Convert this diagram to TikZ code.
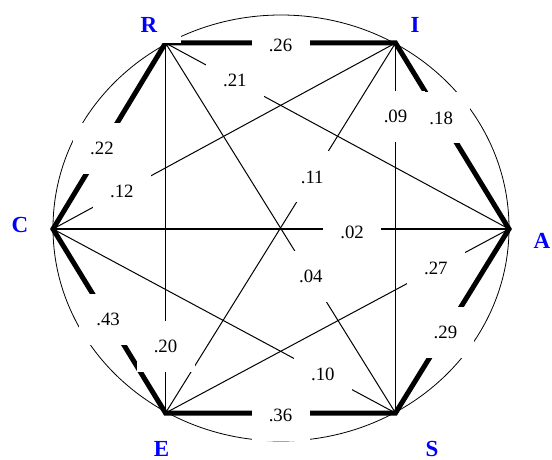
\documentclass[tikz,border=0pt]{standalone}
\usepackage{fontspec}
\setmainfont{Liberation Serif}

\begin{document}
\begin{tikzpicture}[
    x=0.5pt, y=-0.5pt,
    chord/.style={line width=0.5pt},
    ring/.style={line width=2.5pt},
    weight/.style={fill=white, inner sep=0pt, minimum width=29pt, minimum height=25.5pt, font=\fontsize{9.4}{11}\selectfont},
    vname/.style={text=blue, inner sep=0pt, font=\fontsize{11.5}{13}\selectfont\bfseries}
]
    \useasboundingbox (0,0) rectangle (552,460);

    \coordinate (R) at (165.5,43);
    \coordinate (I) at (395.5,43);
    \coordinate (A) at (509,229);
    \coordinate (S) at (395.5,413);
    \coordinate (E) at (165.5,413);
    \coordinate (C) at (53,229);

    \draw[line width=0.4pt] (281,228) ellipse [x radius=114pt, y radius=106.5pt];

    % inner edges
    \draw[chord] (R) -- (A);
    \draw[chord] (R) -- (S);
    \draw[chord] (R) -- (E);
    \draw[chord] (I) -- (C);
    \draw[chord] (I) -- (E);
    \draw[chord] (I) -- (S);
    \draw[chord] (C) -- (A);
    \draw[chord] (C) -- (S);
    \draw[chord] (E) -- (A);

    % outer ring
    \draw[ring] (R) -- (I) -- (A) -- (S) -- (E) -- (C) -- cycle;

    % weights
    \path (R) -- node[weight, pos=.5, yshift=-1.2pt] (w1) {.26} (I);
    \path (I) -- node[weight, pos=.403] (w2) {.18} (A);
    \path (A) -- node[weight, pos=.56] (w3) {.29} (S);
    \path (S) -- node[weight, pos=.5, yshift=-1.2pt] (w4) {.36} (E);
    \path (E) -- node[weight, pos=.51] (w5) {.43} (C);
    \path (C) -- node[weight, pos=.435] (w6) {.22} (R);
    \path (R) -- node[weight, pos=.202] (w7) {.21} (A);
    \path (C) -- node[weight, pos=.201] (w8) {.12} (I);
    \path (C) -- node[weight, pos=.656, yshift=-1.5pt] (w9) {.02} (A);
    \path (R) -- node[weight, pos=.82] (w10) {.20} (E);
    \path (I) -- node[weight, pos=.199] (w11) {.09} (S);
    \path (I) -- node[weight, pos=.362] (w12) {.11} (E);
    \path (R) -- node[weight, pos=.632] (w13) {.04} (S);
    \path (E) -- node[weight, pos=.787] (w14) {.27} (A);
    \path (C) -- node[weight, pos=.788] (w15) {.10} (S);

    % vertex names
    \node[vname, fill=white, minimum width=32pt, minimum height=18pt] (nR) at (149,25) {R};
    \node[vname] (nI) at (415,25) {I};
    \node[vname] (nA) at (542,241) {A};
    \node[vname] (nS) at (432,449) {S};
    \node[vname] (nE) at (161.5,449) {E};
    \node[vname] (nC) at (20,225) {C};

\end{tikzpicture}
\end{document}
